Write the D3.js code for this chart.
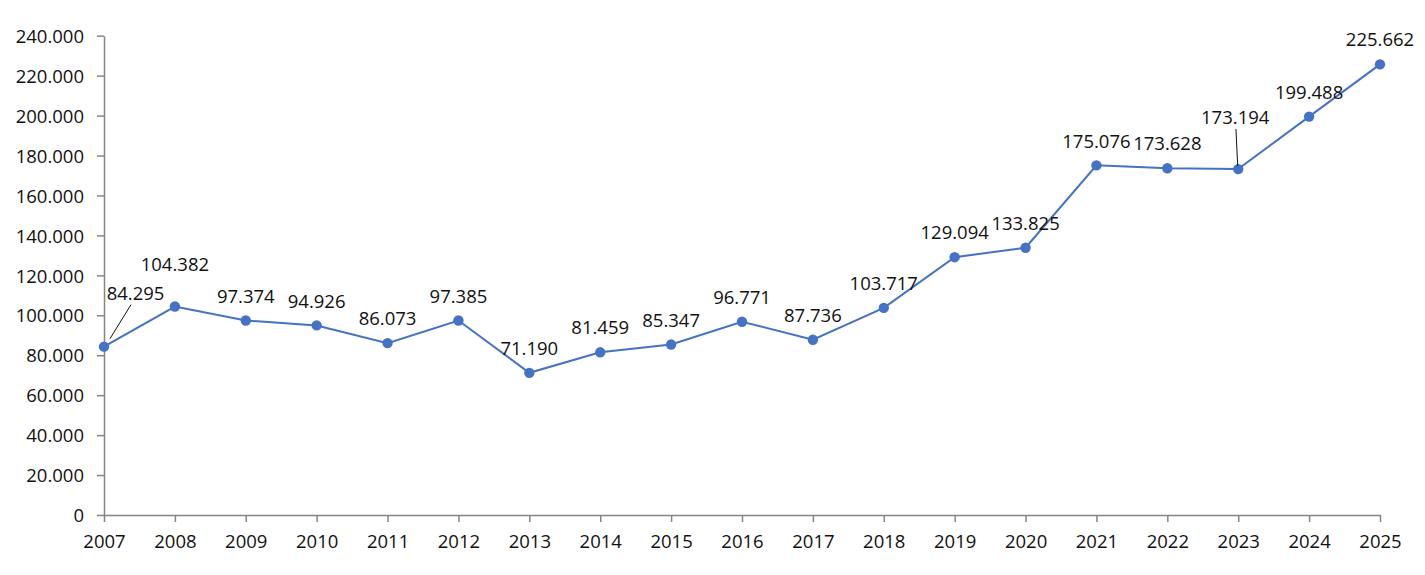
<!DOCTYPE html>
<html lang="en">
<head>
  <meta charset="UTF-8">
  <title>Line chart 2007-2025</title>
  <script src="https://cdn.jsdelivr.net/npm/d3@7"></script>
  <style>
    body { margin: 0; background: #fff; }
    #chart text { font-family: 'Open Sans', 'Noto Sans', sans-serif; font-size: 18.5px; fill: #111; }
    .axis path, .axis line { stroke: #858585; stroke-width: 1.5px; }
  </style>
</head>
<body>
  <div id="chart"></div>
  <script>
    const years = ["2007","2008","2009","2010","2011","2012","2013","2014","2015","2016",
                   "2017","2018","2019","2020","2021","2022","2023","2024","2025"];
    const values = [84.295, 104.382, 97.374, 94.926, 86.073, 97.385, 71.190, 81.459, 85.347, 96.771,
                    87.736, 103.717, 129.094, 133.825, 175.076, 173.628, 173.194, 199.488, 225.662];
    const yTicks = [0, 20, 40, 60, 80, 100, 120, 140, 160, 180, 200, 220, 240];

    const w = 1425, h = 575;
    const margin = { top: 35.7, right: 45, bottom: 60, left: 104 };

    const svg = d3.select("#chart").append("svg")
      .attr("width", w)
      .attr("height", h);

    const x = d3.scalePoint()
      .domain(years)
      .range([margin.left, w - margin.right]);

    const y = d3.scaleLinear()
      .domain([0, 240])
      .range([h - margin.bottom, margin.top]);

    // dot as thousands separator, three decimals
    const fmt = d => d3.format(".3f")(d);
    const yFmt = d => d === 0 ? "0" : fmt(d);

    svg.append("g")
      .attr("class", "axis")
      .attr("transform", "translate(" + margin.left + ",0)")
      .call(d3.axisLeft(y).tickValues(yTicks).tickFormat(yFmt).tickSize(7).tickPadding(13).tickSizeOuter(0))
      .call(g => g.selectAll("text").attr("dy", "0.36em"));

    svg.append("g")
      .attr("class", "axis")
      .attr("transform", "translate(0," + y(0) + ")")
      .call(d3.axisBottom(x).tickSize(7).tickPadding(13).tickSizeOuter(0));

    const line = d3.line()
      .x((d, i) => x(years[i]))
      .y(d => y(d));

    svg.append("path")
      .datum(values)
      .attr("fill", "none")
      .attr("stroke", "#4472C4")
      .attr("stroke-width", 2)
      .attr("d", line);

    svg.selectAll("circle")
      .data(values)
      .enter()
      .append("circle")
      .attr("cx", (d, i) => x(years[i]))
      .attr("cy", d => y(d))
      .attr("r", 5.2)
      .attr("fill", "#4472C4");

    // labels sit 24.5px above the point unless moved; moved ones get a leader line
    const nudge = {
      "2007": { dx: 31.5, dy: -53, leader: [6, -8, 27, -42] },
      "2008": { dx: 0, dy: -42 },
      "2023": { dx: -3, dy: -52, leader: [-0.5, -3, -2.3, -40] }
    };
    const off = yr => nudge[yr] || { dx: 0, dy: -24.5 };

    const pts = values.map((v, i) => ({ year: years[i], v: v, o: off(years[i]) }));

    svg.selectAll(".leader")
      .data(pts.filter(p => p.o.leader))
      .enter()
      .append("line")
      .attr("class", "leader")
      .attr("x1", p => x(p.year) + p.o.leader[0])
      .attr("y1", p => y(p.v) + p.o.leader[1])
      .attr("x2", p => x(p.year) + p.o.leader[2])
      .attr("y2", p => y(p.v) + p.o.leader[3])
      .attr("stroke", "#111")
      .attr("stroke-width", 1);

    svg.selectAll(".lbl")
      .data(pts)
      .enter()
      .append("text")
      .attr("class", "lbl")
      .attr("text-anchor", "middle")
      .attr("x", p => x(p.year) + p.o.dx)
      .attr("y", p => y(p.v) + p.o.dy)
      .attr("dy", "0.36em")
      .text(p => fmt(p.v));
  </script>
</body>
</html>
